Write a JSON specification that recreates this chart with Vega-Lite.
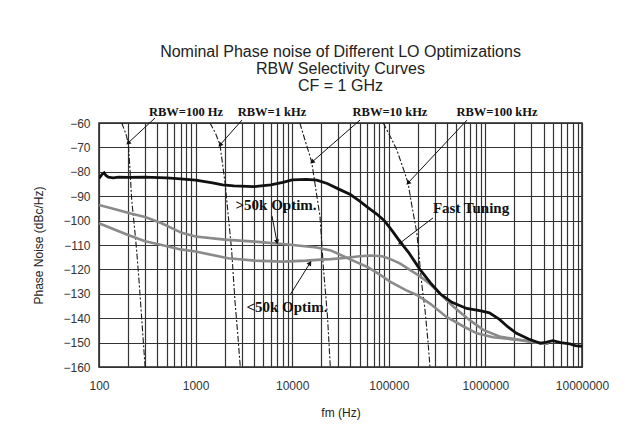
{
  "$schema": "https://vega.github.io/schema/vega-lite/v6.json",
  "width": 483,
  "height": 244,
  "autosize": {"type": "none"},
  "padding": {"left": 99, "top": 123, "right": 44, "bottom": 69},
  "background": "white",
  "title": {
    "text": ["Nominal Phase noise of Different LO Optimizations", "RBW Selectivity Curves", "CF = 1 GHz"],
    "font": "Liberation Sans",
    "fontSize": 16,
    "fontWeight": "normal",
    "lineHeight": 17,
    "color": "#222",
    "anchor": "middle",
    "frame": "group",
    "offset": 12
  },
  "config": {
    "view": {"stroke": "#222", "strokeWidth": 1.5},
    "axis": {
      "labelFont": "Liberation Sans",
      "labelFontSize": 12,
      "labelColor": "#333",
      "titleFont": "Liberation Sans",
      "titleFontSize": 12,
      "titleFontWeight": "normal",
      "titleColor": "#222",
      "gridColor": "#333",
      "gridWidth": 1.2,
      "gridOpacity": 1,
      "ticks": false,
      "tickSize": 0,
      "domain": false
    }
  },
  "datasets": {
    "noise": [
      {"series": "Fast Tuning", "f": 100, "v": -82.7}, {"series": "Fast Tuning", "f": 108, "v": -81}, {"series": "Fast Tuning", "f": 113, "v": -80.4}, {"series": "Fast Tuning", "f": 118, "v": -81.5}, {"series": "Fast Tuning", "f": 125, "v": -82.2}, {"series": "Fast Tuning", "f": 140, "v": -82.5}, {"series": "Fast Tuning", "f": 160, "v": -82.2}, {"series": "Fast Tuning", "f": 200, "v": -82.3}, {"series": "Fast Tuning", "f": 300, "v": -82.2}, {"series": "Fast Tuning", "f": 500, "v": -82.5}, {"series": "Fast Tuning", "f": 700, "v": -82.9}, {"series": "Fast Tuning", "f": 1000, "v": -83.4}, {"series": "Fast Tuning", "f": 1500, "v": -84.5}, {"series": "Fast Tuning", "f": 1900, "v": -85.4}, {"series": "Fast Tuning", "f": 2500, "v": -85.8}, {"series": "Fast Tuning", "f": 4000, "v": -86.1}, {"series": "Fast Tuning", "f": 6000, "v": -85.4}, {"series": "Fast Tuning", "f": 8000, "v": -84.3}, {"series": "Fast Tuning", "f": 10000, "v": -83.3}, {"series": "Fast Tuning", "f": 14000, "v": -83.1}, {"series": "Fast Tuning", "f": 18000, "v": -83.4}, {"series": "Fast Tuning", "f": 23000, "v": -84.8}, {"series": "Fast Tuning", "f": 30000, "v": -87}, {"series": "Fast Tuning", "f": 40000, "v": -89.3}, {"series": "Fast Tuning", "f": 50000, "v": -92}, {"series": "Fast Tuning", "f": 60000, "v": -94.5}, {"series": "Fast Tuning", "f": 75000, "v": -97.3}, {"series": "Fast Tuning", "f": 90000, "v": -100}, {"series": "Fast Tuning", "f": 110000, "v": -104.5}, {"series": "Fast Tuning", "f": 130000, "v": -108.5}, {"series": "Fast Tuning", "f": 160000, "v": -113}, {"series": "Fast Tuning", "f": 210000, "v": -120}, {"series": "Fast Tuning", "f": 270000, "v": -125.5}, {"series": "Fast Tuning", "f": 340000, "v": -130}, {"series": "Fast Tuning", "f": 450000, "v": -133.5}, {"series": "Fast Tuning", "f": 640000, "v": -136}, {"series": "Fast Tuning", "f": 900000, "v": -137}, {"series": "Fast Tuning", "f": 1100000, "v": -137.8}, {"series": "Fast Tuning", "f": 1400000, "v": -140.5}, {"series": "Fast Tuning", "f": 1700000, "v": -143.5}, {"series": "Fast Tuning", "f": 2100000, "v": -146.2}, {"series": "Fast Tuning", "f": 2800000, "v": -148.5}, {"series": "Fast Tuning", "f": 3700000, "v": -150.3}, {"series": "Fast Tuning", "f": 4300000, "v": -149.8}, {"series": "Fast Tuning", "f": 5000000, "v": -149.2}, {"series": "Fast Tuning", "f": 6000000, "v": -150}, {"series": "Fast Tuning", "f": 7500000, "v": -150.5}, {"series": "Fast Tuning", "f": 8500000, "v": -151.2}, {"series": "Fast Tuning", "f": 10000000, "v": -151.5},
      {"series": ">50k Optim.", "f": 100, "v": -93.6}, {"series": ">50k Optim.", "f": 150, "v": -95.5}, {"series": ">50k Optim.", "f": 218, "v": -97.2}, {"series": ">50k Optim.", "f": 300, "v": -98.5}, {"series": ">50k Optim.", "f": 446, "v": -101.1}, {"series": ">50k Optim.", "f": 718, "v": -105}, {"series": ">50k Optim.", "f": 1000, "v": -106.5}, {"series": ">50k Optim.", "f": 2000, "v": -107.8}, {"series": ">50k Optim.", "f": 4100, "v": -108.6}, {"series": ">50k Optim.", "f": 8000, "v": -109.6}, {"series": ">50k Optim.", "f": 18000, "v": -111}, {"series": ">50k Optim.", "f": 25000, "v": -112.2}, {"series": ">50k Optim.", "f": 33500, "v": -114.5}, {"series": ">50k Optim.", "f": 45000, "v": -116.8}, {"series": ">50k Optim.", "f": 60000, "v": -119}, {"series": ">50k Optim.", "f": 80000, "v": -122}, {"series": ">50k Optim.", "f": 103000, "v": -125}, {"series": ">50k Optim.", "f": 150000, "v": -128.5}, {"series": ">50k Optim.", "f": 195000, "v": -130.5}, {"series": ">50k Optim.", "f": 267000, "v": -134}, {"series": ">50k Optim.", "f": 393000, "v": -139.4}, {"series": ">50k Optim.", "f": 600000, "v": -143.5}, {"series": ">50k Optim.", "f": 815000, "v": -146.2}, {"series": ">50k Optim.", "f": 1200000, "v": -147.8}, {"series": ">50k Optim.", "f": 2300000, "v": -149}, {"series": ">50k Optim.", "f": 3500000, "v": -150}, {"series": ">50k Optim.", "f": 4500000, "v": -150.5},
      {"series": "<50k Optim.", "f": 100, "v": -101.1}, {"series": "<50k Optim.", "f": 200, "v": -105.9}, {"series": "<50k Optim.", "f": 300, "v": -108.5}, {"series": "<50k Optim.", "f": 446, "v": -110}, {"series": "<50k Optim.", "f": 700, "v": -111.8}, {"series": "<50k Optim.", "f": 1000, "v": -112.7}, {"series": "<50k Optim.", "f": 2170, "v": -115.4}, {"series": "<50k Optim.", "f": 4100, "v": -116.4}, {"series": "<50k Optim.", "f": 8000, "v": -116.8}, {"series": "<50k Optim.", "f": 14000, "v": -116.4}, {"series": "<50k Optim.", "f": 18000, "v": -116.1}, {"series": "<50k Optim.", "f": 25000, "v": -115.8}, {"series": "<50k Optim.", "f": 35000, "v": -115.3}, {"series": "<50k Optim.", "f": 50000, "v": -114.6}, {"series": "<50k Optim.", "f": 65000, "v": -114.3}, {"series": "<50k Optim.", "f": 85000, "v": -114.6}, {"series": "<50k Optim.", "f": 100000, "v": -115.5}, {"series": "<50k Optim.", "f": 130000, "v": -117.5}, {"series": "<50k Optim.", "f": 170000, "v": -120.5}, {"series": "<50k Optim.", "f": 210000, "v": -122.8}, {"series": "<50k Optim.", "f": 267000, "v": -126}, {"series": "<50k Optim.", "f": 330000, "v": -129.5}, {"series": "<50k Optim.", "f": 467000, "v": -135.3}, {"series": "<50k Optim.", "f": 700000, "v": -141}, {"series": "<50k Optim.", "f": 950000, "v": -144.8}, {"series": "<50k Optim.", "f": 1400000, "v": -147.5}, {"series": "<50k Optim.", "f": 2300000, "v": -148.9}, {"series": "<50k Optim.", "f": 3500000, "v": -150}, {"series": "<50k Optim.", "f": 4500000, "v": -150.5}
    ],
    "rbw": [
      {"rbw": "100 Hz", "f": 172, "v": -60}, {"rbw": "100 Hz", "f": 190, "v": -64.5}, {"rbw": "100 Hz", "f": 201, "v": -68.3}, {"rbw": "100 Hz", "f": 210, "v": -80}, {"rbw": "100 Hz", "f": 218, "v": -91.6}, {"rbw": "100 Hz", "f": 232, "v": -102}, {"rbw": "100 Hz", "f": 245, "v": -112}, {"rbw": "100 Hz", "f": 260, "v": -125}, {"rbw": "100 Hz", "f": 276, "v": -139.4}, {"rbw": "100 Hz", "f": 288, "v": -150}, {"rbw": "100 Hz", "f": 300, "v": -160},
      {"rbw": "1 kHz", "f": 1410, "v": -60}, {"rbw": "1 kHz", "f": 1600, "v": -64}, {"rbw": "1 kHz", "f": 1790, "v": -69}, {"rbw": "1 kHz", "f": 2020, "v": -84.7}, {"rbw": "1 kHz", "f": 2270, "v": -105.2}, {"rbw": "1 kHz", "f": 2360, "v": -112}, {"rbw": "1 kHz", "f": 2550, "v": -132.5}, {"rbw": "1 kHz", "f": 2750, "v": -148}, {"rbw": "1 kHz", "f": 2900, "v": -160},
      {"rbw": "10 kHz", "f": 12000, "v": -60}, {"rbw": "10 kHz", "f": 13800, "v": -68}, {"rbw": "10 kHz", "f": 15900, "v": -75.9}, {"rbw": "10 kHz", "f": 19400, "v": -98.4}, {"rbw": "10 kHz", "f": 21000, "v": -118.9}, {"rbw": "10 kHz", "f": 23200, "v": -139.4}, {"rbw": "10 kHz", "f": 24800, "v": -160},
      {"rbw": "100 kHz", "f": 87600, "v": -60}, {"rbw": "100 kHz", "f": 105000, "v": -66}, {"rbw": "100 kHz", "f": 121000, "v": -71}, {"rbw": "100 kHz", "f": 145000, "v": -80}, {"rbw": "100 kHz", "f": 159000, "v": -85}, {"rbw": "100 kHz", "f": 170000, "v": -92}, {"rbw": "100 kHz", "f": 195000, "v": -105}, {"rbw": "100 kHz", "f": 219000, "v": -125.7}, {"rbw": "100 kHz", "f": 237000, "v": -136.6}, {"rbw": "100 kHz", "f": 255000, "v": -150}, {"rbw": "100 kHz", "f": 267000, "v": -160}
    ],
    "arrows": [
      {"name": "RBW=100 Hz", "f1": 380, "v1": -57.95, "f2": 200, "v2": -68.2, "angle": 227},
      {"name": "RBW=1 kHz", "f1": 3020, "v1": -58.8, "f2": 1789, "v2": -69.0, "angle": 221},
      {"name": "RBW=10 kHz", "f1": 50340, "v1": -58.8, "f2": 16030, "v2": -76.0, "angle": 229},
      {"name": "RBW=100 kHz", "f1": 645000, "v1": -58.8, "f2": 158000, "v2": -84.6, "angle": 223},
      {"name": ">50k Optim.", "f1": 6180, "v1": -98.1, "f2": 6960, "v2": -108.8, "angle": 169},
      {"name": "<50k Optim.", "f1": 9490, "v1": -130.5, "f2": 15290, "v2": -117.4, "angle": 32},
      {"name": "Fast Tuning", "f1": 286800, "v1": -98.9, "f2": 130600, "v2": -109.2, "angle": 233}
    ],
    "labels": [
      {"text": "RBW=100 Hz", "kind": "rbw", "f": 795, "v": -55.4},
      {"text": "RBW=1 kHz", "kind": "rbw", "f": 6180, "v": -55.4},
      {"text": "RBW=10 kHz", "kind": "rbw", "f": 102900, "v": -55.4},
      {"text": "RBW=100 kHz", "kind": "rbw", "f": 1318000, "v": -55.4},
      {"text": ">50k Optim.", "kind": "curve", "f": 6800, "v": -93.6},
      {"text": "<50k Optim.", "kind": "curve", "f": 8830, "v": -135.4},
      {"text": "Fast Tuning", "kind": "curve", "f": 710000, "v": -94.8}
    ]
  },
  "encoding": {
    "x": {
      "field": "f",
      "type": "quantitative",
      "scale": {"type": "log", "domain": [100, 10000000], "nice": false},
      "axis": {
        "title": "fm (Hz)",
        "values": [100, 200, 300, 400, 500, 600, 700, 800, 900, 1000, 2000, 3000, 4000, 5000, 6000, 7000, 8000, 9000, 10000, 20000, 30000, 40000, 50000, 60000, 70000, 80000, 90000, 100000, 200000, 300000, 400000, 500000, 600000, 700000, 800000, 900000, 1000000, 2000000, 3000000, 4000000, 5000000, 6000000, 7000000, 8000000, 9000000, 10000000],
        "labelExpr": "indexof([100, 1000, 10000, 100000, 1000000, 10000000], datum.value) >= 0 ? format(datum.value, 'd') : ''",
        "labelOverlap": false,
        "labelFlush": false,
        "labelPadding": 13,
        "titlePadding": 16
      }
    },
    "y": {
      "field": "v",
      "type": "quantitative",
      "scale": {"domain": [-160, -60], "nice": false, "zero": false},
      "axis": {
        "title": "Phase Noise (dBc/Hz)",
        "values": [-160, -150, -140, -130, -120, -110, -100, -90, -80, -70, -60],
        "labelPadding": 9,
        "titlePadding": 17
      }
    }
  },
  "layer": [
    {
      "data": {"name": "rbw"},
      "mark": {"type": "line", "color": "#1a1a1a", "strokeWidth": 1.1, "strokeDash": [6, 2, 2, 2], "clip": true},
      "encoding": {"detail": {"field": "rbw"}}
    },
    {
      "data": {"name": "noise"},
      "transform": [{"filter": "datum.series != 'Fast Tuning'"}],
      "mark": {"type": "line", "color": "#8a8a8a", "strokeWidth": 2.6, "clip": true},
      "encoding": {"detail": {"field": "series"}}
    },
    {
      "data": {"name": "noise"},
      "transform": [{"filter": "datum.series == 'Fast Tuning'"}],
      "mark": {"type": "line", "color": "#111111", "strokeWidth": 2.8, "clip": true},
      "encoding": {}
    },
    {
      "data": {"name": "arrows"},
      "mark": {"type": "rule", "color": "#111111", "strokeWidth": 1},
      "encoding": {
        "x": {"field": "f1", "type": "quantitative"},
        "y": {"field": "v1", "type": "quantitative"},
        "x2": {"field": "f2"},
        "y2": {"field": "v2"}
      }
    },
    {
      "data": {"name": "arrows"},
      "mark": {"type": "point", "shape": "triangle-up", "filled": true, "color": "#111111", "size": 28, "opacity": 1},
      "encoding": {
        "x": {"field": "f2", "type": "quantitative"},
        "y": {"field": "v2", "type": "quantitative"},
        "angle": {"field": "angle", "type": "quantitative", "scale": null}
      }
    },
    {
      "data": {"name": "labels"},
      "transform": [{"filter": "datum.kind == 'rbw'"}],
      "mark": {"type": "text", "font": "Liberation Serif", "fontSize": 12.5, "fontWeight": "bold", "color": "#111111", "baseline": "middle", "align": "center"},
      "encoding": {"text": {"field": "text"}}
    },
    {
      "data": {"name": "labels"},
      "transform": [{"filter": "datum.kind == 'curve'"}],
      "mark": {"type": "text", "font": "Liberation Serif", "fontSize": 15, "fontWeight": "bold", "color": "#111111", "baseline": "middle", "align": "center"},
      "encoding": {"text": {"field": "text"}}
    }
  ]
}
